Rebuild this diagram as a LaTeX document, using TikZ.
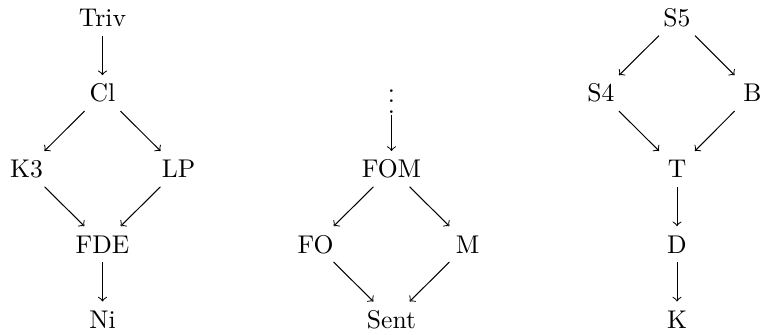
\documentclass[tikz,border=0pt]{standalone}
\begin{document}
\begin{tikzpicture}[x=0.3906pt,y=-0.3906pt,
  lbl/.style={text height=6.94pt,text depth=0pt,anchor=base,inner sep=3.33pt},
  arr/.style={->,>=to,line width=0.4pt}]
\useasboundingbox (0,0) rectangle (760,334);
% left
\node[lbl] (triv) at (102.5,26.6) {Triv};
\node[lbl] (cl)   at (102.5,102) {Cl};
\node[lbl] (k3)   at (26.5,177.8) {K3};
\node[lbl] (lp)   at (178.5,177.8) {LP};
\node[lbl] (fde)  at (102.5,253) {FDE};
\node[lbl] (ni)   at (102.5,328.3) {Ni};
\draw[arr] (triv) -- (cl);
\draw[arr] (cl) -- (k3);
\draw[arr] (cl) -- (lp);
\draw[arr] (k3) -- (fde);
\draw[arr] (lp) -- (fde);
\draw[arr] (fde) -- (ni);
% middle
\node[anchor=base,inner sep=0.6pt] (dots) at (391.5,113) {$\vdots$};
\node[lbl] (fom)  at (391.5,177.8) {FOM};
\node[lbl] (fo)   at (315.5,253) {FO};
\node[lbl] (m)    at (467.5,253) {M};
\node[lbl] (sent) at (391.5,328.3) {Sent};
\draw[arr] (dots) -- (fom);
\draw[arr] (fom) -- (fo);
\draw[arr] (fom) -- (m);
\draw[arr] (fo) -- (sent);
\draw[arr] (m) -- (sent);
% right
\node[lbl] (s5) at (677,26.6) {S5};
\node[lbl] (s4) at (601,102) {S4};
\node[lbl] (b)  at (752.5,102) {B};
\node[lbl] (t)  at (677,177.8) {T};
\node[lbl] (d)  at (677,253) {D};
\node[lbl] (k)  at (677,328.3) {K};
\draw[arr] (s5) -- (s4);
\draw[arr] (s5) -- (b);
\draw[arr] (s4) -- (t);
\draw[arr] (b) -- (t);
\draw[arr] (t) -- (d);
\draw[arr] (d) -- (k);
\end{tikzpicture}
\end{document}
